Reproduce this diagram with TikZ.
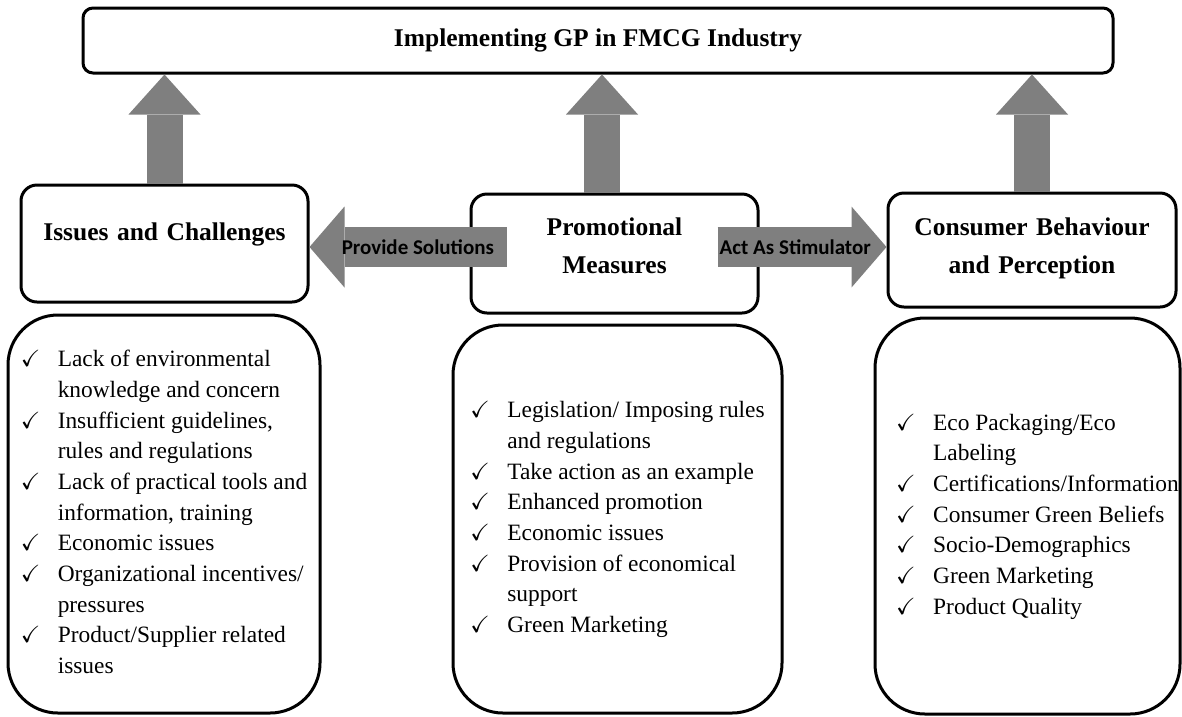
\documentclass[tikz,border=0pt]{standalone}
\usepackage{amssymb}
\usepackage{fontspec}
\setmainfont{Liberation Serif}
\newfontfamily\capfont{Carlito}
\usetikzlibrary{arrows.meta,calc}
\definecolor{Ink}{HTML}{000000}
\definecolor{ArrowGrey}{HTML}{7F7F7F}
\definecolor{Canvas}{HTML}{FFFFFF}

\begin{document}
\begin{tikzpicture}[x=1pt,y=-1pt,topbox/.style={draw=Ink,line width=3pt,fill=Canvas,rounded corners=10pt,minimum width=1030pt,minimum height=65pt,inner sep=0pt,font=\bfseries\fontsize{25.5}{30}\selectfont},headbox/.style={draw=Ink,line width=3pt,fill=Canvas,rounded corners=16pt,inner sep=0pt,align=center,text width=280pt,text height=18pt,font=\bfseries\fontsize{25.5}{38}\selectfont},listbox/.style={draw=Ink,line width=3pt,fill=Canvas,rounded corners=50pt,inner sep=0pt,font=\fontsize{23.4}{30.7}\selectfont},uparrow/.style={draw=ArrowGrey,line width=36pt,-{Triangle[length=40pt,width=72pt,line width=0pt]}},sidearrow/.style={draw=ArrowGrey,line width=40pt,-{Triangle[length=35pt,width=81pt,line width=0pt]}},sidecap/.style={font=\capfont\bfseries\fontsize{21}{24}\selectfont,text=Ink,inner sep=0pt}]
\useasboundingbox (0,0) rectangle (1182,716);
% heading boxes
\node[topbox] (gp) at (598,40.5) {Implementing GP in FMCG Industry};
\node[headbox,minimum width=287pt,minimum height=117pt,text depth=24pt] (issues) at (164.5,243.5) {Issues and Challenges};
\node[headbox,minimum width=287pt,minimum height=119pt,text depth=54pt] (promo) at (614.5,253.5) {Promotional\\Measures};
\node[headbox,minimum width=288pt,minimum height=114pt,text depth=47pt] (consumer) at (1032,250) {Consumer Behaviour\\and Perception};
% lists
\node[listbox,minimum width=312pt,minimum height=398pt] (issueslist) at (164,514) {\begin{tabular}{@{}p{37pt}@{}l@{}}$\checkmark$&Lack of environmental\\&knowledge and concern\\$\checkmark$&Insufficient guidelines,\\&rules and regulations\\$\checkmark$&Lack of practical tools and\\&information, training\\$\checkmark$&Economic issues\\$\checkmark$&Organizational incentives/\\&pressures\\$\checkmark$&Product/Supplier related\\&issues\end{tabular}};
\node[listbox,minimum width=329pt,minimum height=388pt] (promolist) at (617.5,519) {\begin{tabular}{@{}p{37pt}@{}l@{}}$\checkmark$&Legislation/ Imposing rules\\&and regulations\\$\checkmark$&Take action as an example\\$\checkmark$&Enhanced promotion\\$\checkmark$&Economic issues\\$\checkmark$&Provision of economical\\&support\\$\checkmark$&Green Marketing\end{tabular}};
\node[listbox,minimum width=305pt,minimum height=396pt] (consumerlist) at (1027.5,516) {\begin{tabular}{@{\hspace{20pt}}p{37pt}@{}l@{}}$\checkmark$&Eco Packaging/Eco\\&Labeling\\$\checkmark$&Certifications/Information\\$\checkmark$&Consumer Green Beliefs\\$\checkmark$&Socio-Demographics\\$\checkmark$&Green Marketing\\$\checkmark$&Product Quality\end{tabular}};
% arrows
\coordinate (promotip) at ([xshift=-12.5pt]promo.north);
\draw[uparrow] (issues.north) -- (issues.north |- gp.south);\draw[uparrow] (promotip) -- (promotip |- gp.south);\draw[uparrow] (consumer.north) -- (consumer.north |- gp.south);
\draw[sidearrow] ([xshift=37pt,yshift=6.5pt]promo.west) -- ([yshift=-3.5pt]issues.east) node[sidecap,pos=0.45] (solve) {Provide Solutions};
\draw[sidearrow] ([xshift=-42pt,yshift=6.5pt]promo.east) -- ([yshift=3pt]consumer.west) node[sidecap,pos=0.46] (stimulate) {Act As Stimulator};
\end{tikzpicture}
\end{document}
